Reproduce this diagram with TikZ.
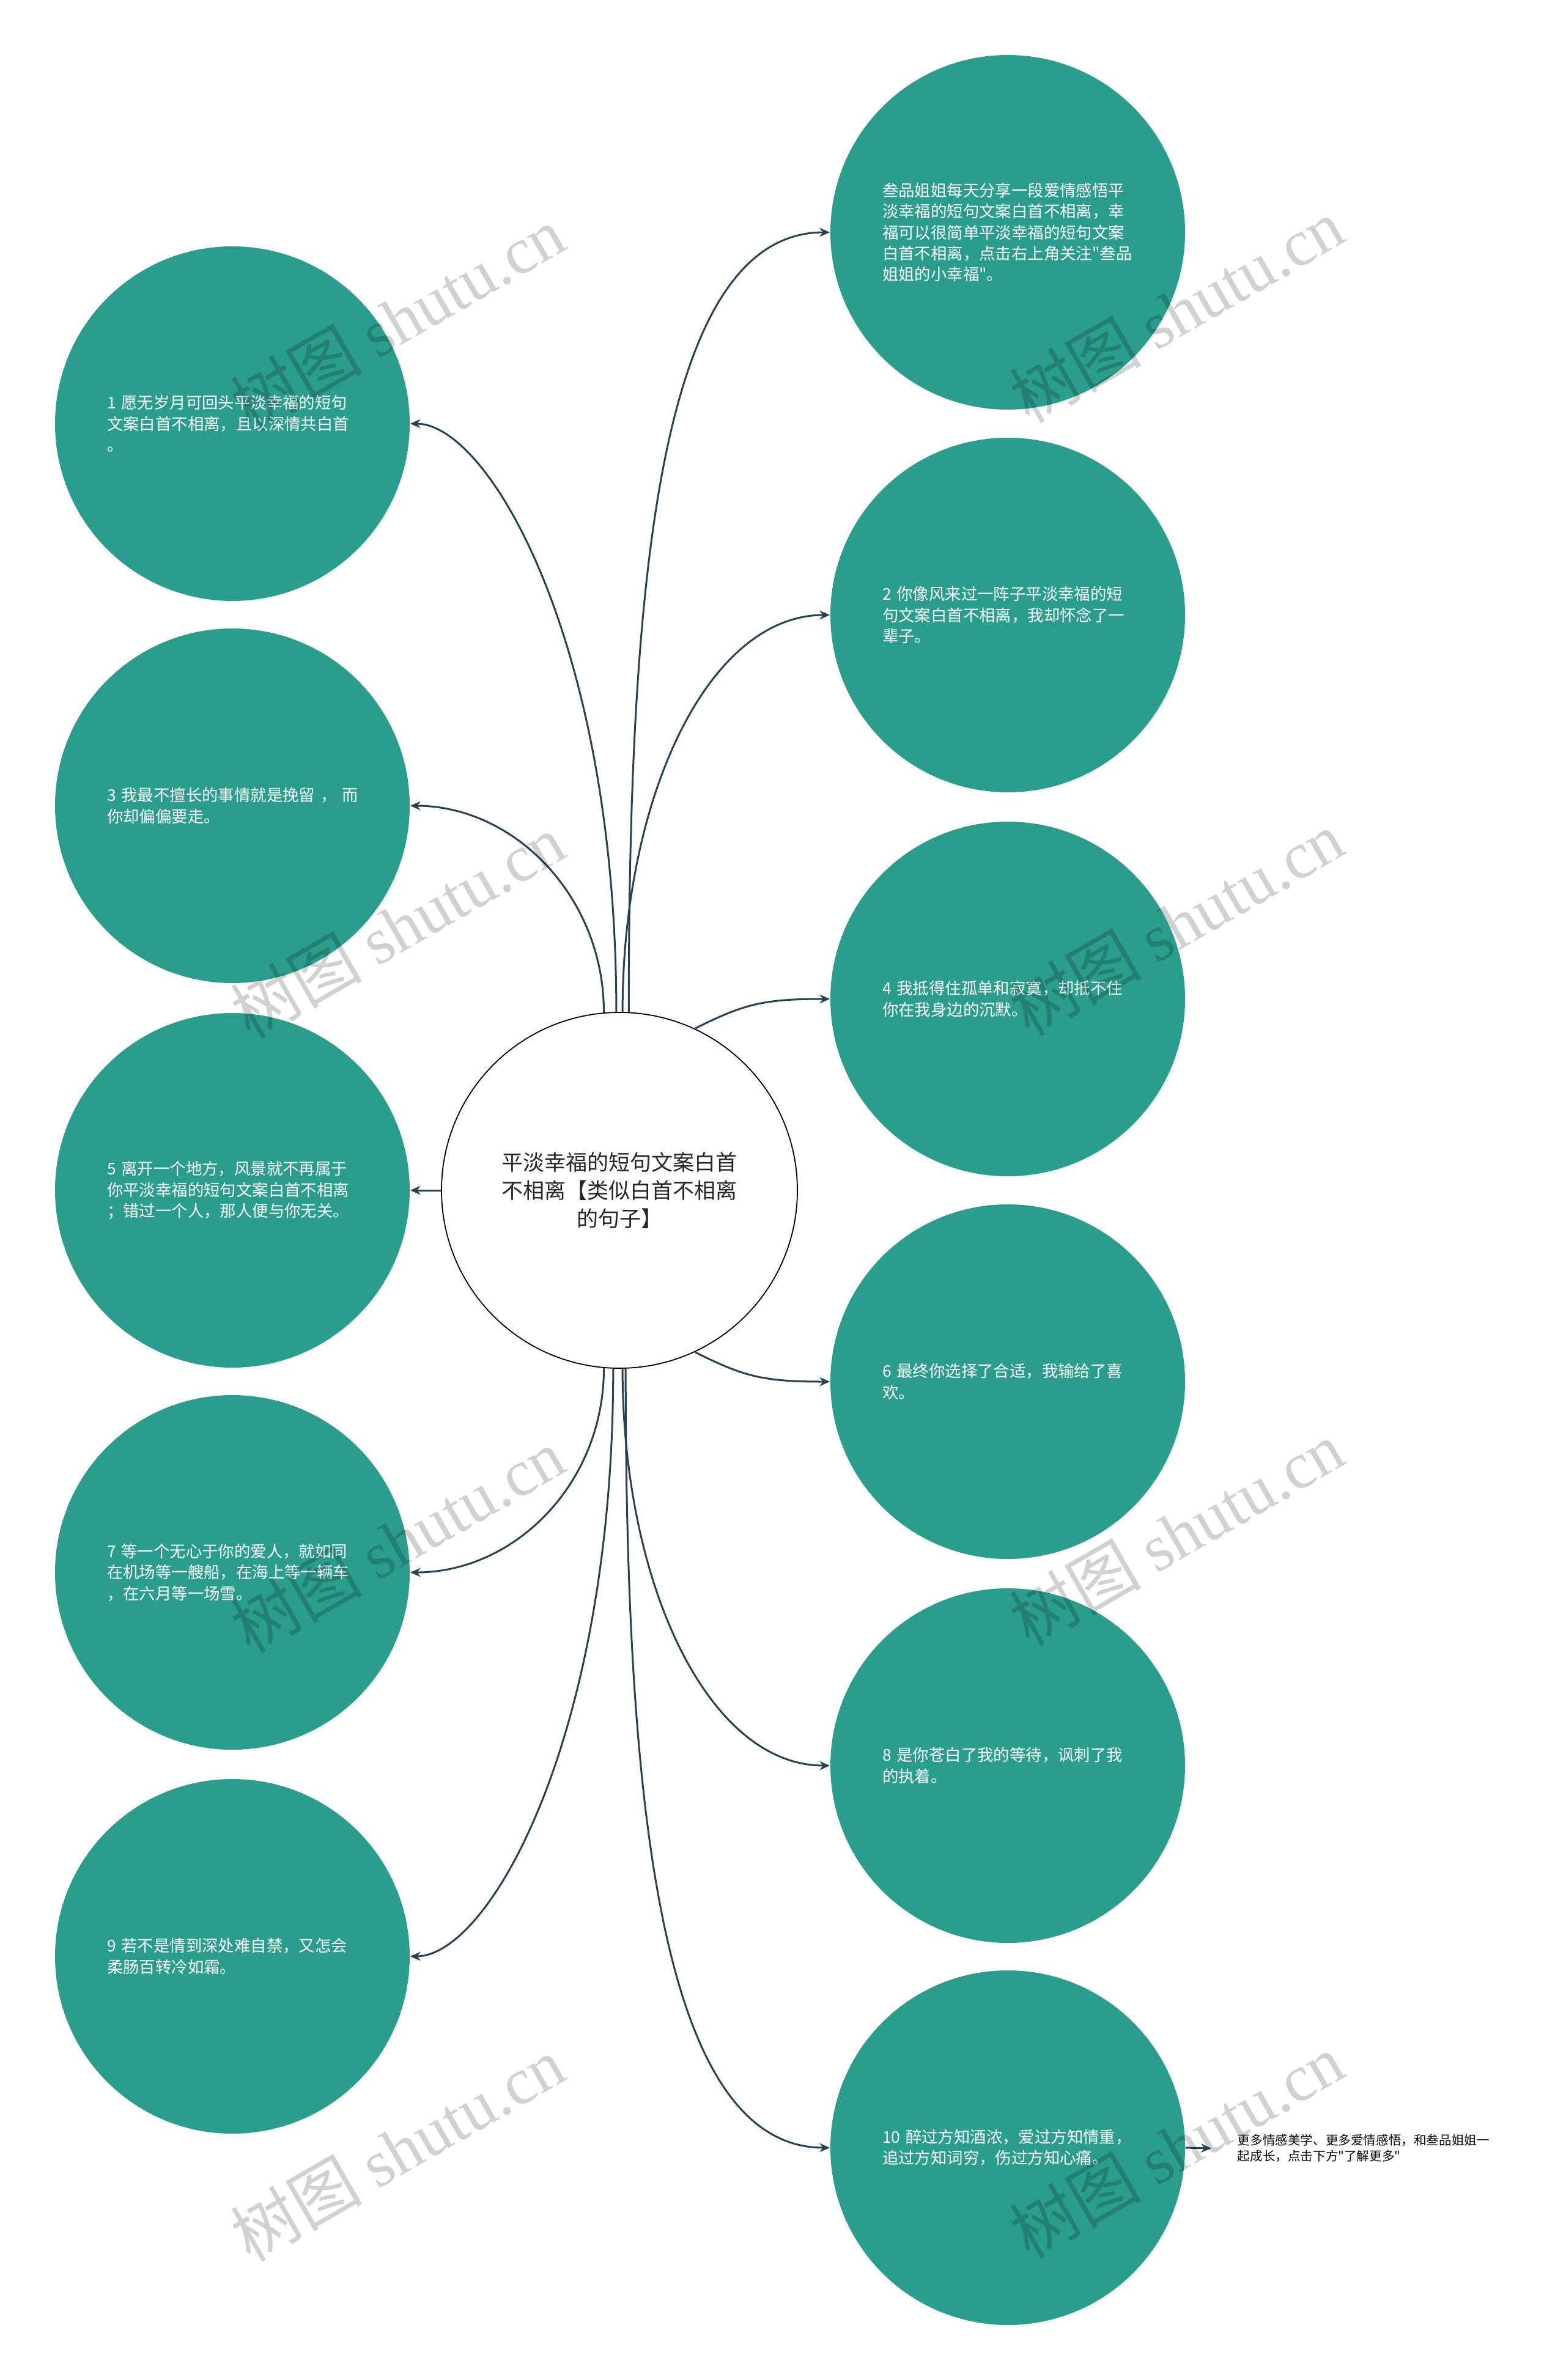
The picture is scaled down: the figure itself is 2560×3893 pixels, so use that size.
\documentclass[tikz,border=0pt]{standalone}
\usepackage{fontspec}
\setmainfont{Noto Sans CJK SC}[Ligatures=TeXOff]
\newfontfamily\wmfont{Liberation Serif}
\usetikzlibrary{arrows.meta}
\definecolor{leafteal}{RGB}{42,157,140}
\definecolor{edgecol}{RGB}{38,66,82}
\begin{document}
\begin{tikzpicture}[x=0.25pt,y=-0.25pt,
  leaf/.style={circle, fill=leafteal, minimum size=145pt, inner sep=0pt, text=white,
    font=\fontsize{6.6pt}{8.6pt}\selectfont, align=left, text width=102.5pt},
  root/.style={circle, draw=black, line width=0.45pt, fill=white, minimum size=145.5pt,
    inner sep=0pt, text=black!85, font=\fontsize{8.75pt}{11.5pt}\selectfont, align=center},
  link/.style={draw=edgecol, line width=0.75pt, -{Stealth[length=4.2pt,width=3.6pt]}},
  more/.style={anchor=west, inner xsep=10.5pt, inner ysep=2pt, text=black,
    font=\fontsize{5.15pt}{6.5pt}\selectfont, align=left},
  wm/.style={rotate=30, text=black, text opacity=0.18, font=\fontsize{27pt}{30pt}\selectfont}
]
\useasboundingbox (0,0) rectangle (2560,3893);

% root
\node[root] (c) at (1013,1947) {平淡幸福的短句文案白首\\不相离【类似白首不相离\\的句子】};

% right column
\node[leaf] (r1) at (1648,380) {叁品姐姐每天分享一段爱情感悟平\\淡幸福的短句文案白首不相离，幸\\福可以很简单平淡幸福的短句文案\\白首不相离，点击右上角关注"叁品\\姐姐的小幸福"。};
\node[leaf] (r2) at (1648,1006) {2~你像风来过一阵子平淡幸福的短\\句文案白首不相离，我却怀念了一\\辈子。};
\node[leaf] (r4) at (1648,1634) {4~我抵得住孤单和寂寞，却抵不住\\你在我身边的沉默。};
\node[leaf] (r6) at (1648,2260) {6~最终你选择了合适，我输给了喜\\欢。};
\node[leaf] (r8) at (1648,2888) {8~是你苍白了我的等待，讽刺了我\\的执着。};
\node[leaf] (r10) at (1648,3513) {10~醉过方知酒浓，爱过方知情重，\\追过方知词穷，伤过方知心痛。};

% left column
\node[leaf] (l1) at (380,693) {1~愿无岁月可回头平淡幸福的短句\\文案白首不相离，且以深情共白首\\。};
\node[leaf] (l3) at (380,1318) {3~我最不擅长的事情就是挽留~，~而\\你却偏偏要走。};
\node[leaf] (l5) at (380,1947) {5~离开一个地方，风景就不再属于\\你平淡幸福的短句文案白首不相离\\；错过一个人，那人便与你无关。};
\node[leaf] (l7) at (380,2572) {7~等一个无心于你的爱人，就如同\\在机场等一艘船，在海上等一辆车\\，在六月等一场雪。};
\node[leaf] (l9) at (380,3200) {9~若不是情到深处难自禁，又怎会\\柔肠百转冷如霜。};

% extra
\node[more] (more) at (1981,3514) {更多情感美学、更多爱情感悟，和叁品姐姐一\\起成长，点击下方"了解更多"};

% connectors
\draw[link] (c.87.5) .. controls +(0,-700) and +(-280,0) .. (r1.west);
\draw[link] (c.91.5) .. controls +(0,-600) and +(130,0) .. (l1.east);
\draw[link] (c.89) .. controls +(0,-350) and +(-200,0) .. (r2.west);
\draw[link] (c.95) .. controls +(0,-190) and +(170,0) .. (l3.east);
\draw[link] (c.65.5) .. controls +(80,-40) and +(-110,0) .. (r4.west);
\draw[link] (c.west) -- (l5.east);
\draw[link] (c.-65.5) .. controls +(80,40) and +(-110,0) .. (r6.west);
\draw[link] (c.265) .. controls +(0,190) and +(170,0) .. (l7.east);
\draw[link] (c.271) .. controls +(0,350) and +(-200,0) .. (r8.west);
\draw[link] (c.268.5) .. controls +(0,600) and +(130,0) .. (l9.east);
\draw[link] (c.272.5) .. controls +(0,700) and +(-280,0) .. (r10.west);
\draw[link] (r10.east) -- (more.west);

% watermarks
\node[wm] (wm1) at (650,521) {树图 {\wmfont shutu.cn}};
\node[wm] (wm2) at (1924,508) {树图 {\wmfont shutu.cn}};
\node[wm] (wm3) at (650,1515) {树图 {\wmfont shutu.cn}};
\node[wm] (wm4) at (1924,1510) {树图 {\wmfont shutu.cn}};
\node[wm] (wm5) at (650,2520) {树图 {\wmfont shutu.cn}};
\node[wm] (wm6) at (1924,2508) {树图 {\wmfont shutu.cn}};
\node[wm] (wm7) at (650,3515) {树图 {\wmfont shutu.cn}};
\node[wm] (wm8) at (1924,3510) {树图 {\wmfont shutu.cn}};
\end{tikzpicture}
\end{document}
